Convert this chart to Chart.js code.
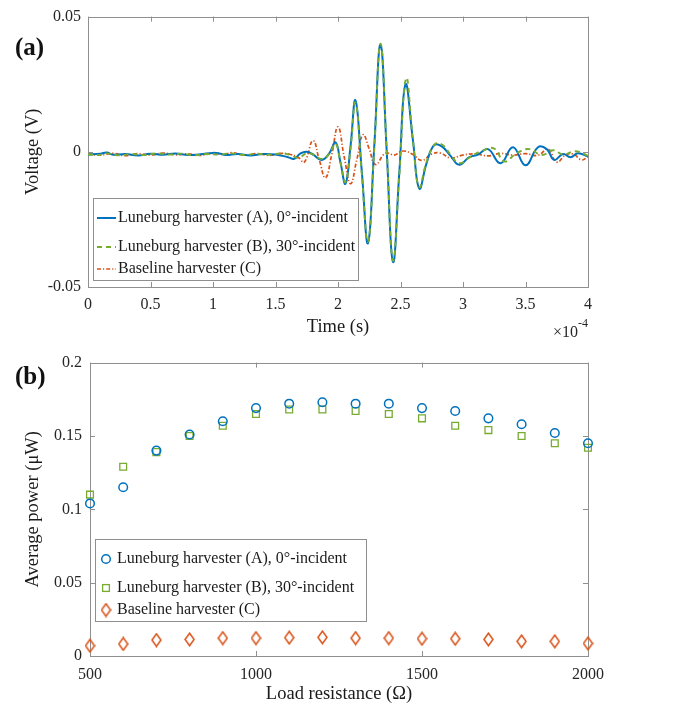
<!DOCTYPE html>
<html>
<head>
<meta charset="utf-8">
<script src="https://cdn.jsdelivr.net/npm/chart.js@4.4.1/dist/chart.umd.min.js"></script>
<style>
  body { margin: 0; background: #fff; }
  #wrap { position: relative; width: 677px; height: 712px; }
  #c1 { position: absolute; left: 0; top: 0; }
  #c2 { position: absolute; left: 0; top: 345px; }
</style>
</head>
<body>
<div id="wrap">
  <canvas id="c1" width="677" height="345"></canvas>
  <canvas id="c2" width="677" height="367"></canvas>
</div>
<script>
// ---- panel (a): time in units of 1e-4 s, voltage in V
var timeA = [0,0.1,0.15,0.2,0.3,0.4,0.5,0.6,0.7,0.8,0.9,1.0,1.05,1.1,1.2,1.3,1.4,1.5,1.6,1.65,
  1.7,1.75,1.8,1.87,1.93,1.98,2.02,2.06,2.10,2.14,2.19,2.24,2.29,2.34,2.39,2.44,2.49,2.54,2.60,2.65,
  2.71,2.77,2.83,2.90,2.97,3.05,3.12,3.2,3.3,3.4,3.5,3.6,3.67,3.73,3.8,3.86,3.92,4.0];
var voltA = [-0.0010,-0.0007,-0.0003,-0.0011,-0.0008,-0.0014,-0.0007,-0.0011,-0.0006,-0.0012,
  -0.0009,-0.0004,-0.0006,-0.0012,-0.0008,-0.0014,-0.0008,-0.0010,-0.0020,-0.0026,
  -0.0006,0.0000,-0.0010,-0.0030,-0.0006,0.0035,-0.0040,-0.0118,0.0020,0.0190,
  -0.0070,-0.0338,0.0020,0.0396,0.0000,-0.0408,-0.0080,0.0249,0.0040,-0.0136,
  -0.0040,0.0025,0.0020,-0.0015,-0.0048,-0.0020,-0.0010,0.0010,-0.0042,0.0017,
  -0.0050,0.0017,0.0010,-0.0030,-0.0008,-0.0020,-0.0005,-0.0018];

var timeB = [0,0.08,0.15,0.25,0.35,0.45,0.55,0.65,0.75,0.85,0.95,1.05,1.15,1.25,1.35,1.45,1.55,1.62,1.68,1.75,
  1.8,1.87,1.93,1.98,2.02,2.06,2.10,2.14,2.19,2.24,2.29,2.34,2.39,2.44,2.49,2.545,2.60,2.65,2.71,2.78,
  2.84,2.90,2.97,3.05,3.15,3.25,3.33,3.43,3.53,3.63,3.72,3.8,3.9,4.0];
var voltB = [-0.0009,-0.0012,-0.0006,-0.0013,-0.0008,-0.0012,-0.0006,-0.0010,-0.0007,-0.0013,
  -0.0008,-0.0010,-0.0006,-0.0012,-0.0007,-0.0011,-0.0006,-0.0012,-0.0022,-0.0006,
  -0.0010,-0.0026,-0.0008,0.0030,-0.0040,-0.0112,0.0010,0.0182,-0.0080,-0.0332,
  0.0010,0.0400,0.0005,-0.0402,-0.0090,0.0272,0.0040,-0.0130,-0.0035,0.0030,
  0.0024,-0.0010,-0.0042,-0.0022,0.0003,0.0012,-0.0036,-0.0005,0.0010,-0.0012,
  0.0006,-0.0010,0.0002,-0.0015];

var timeC = [0,0.1,0.2,0.3,0.4,0.5,0.6,0.7,0.8,0.9,1.0,1.1,1.15,1.25,1.35,1.45,1.55,1.62,1.68,1.73,
  1.80,1.85,1.90,1.95,2.00,2.05,2.10,2.15,2.20,2.25,2.30,2.38,2.45,2.52,2.60,2.67,2.75,2.82,2.90,3.0,
  3.1,3.2,3.3,3.4,3.5,3.6,3.68,3.75,3.82,3.88,3.95,4.0];
var voltC = [-0.0008,-0.0012,-0.0006,-0.0014,-0.0007,-0.0012,-0.0005,-0.0011,-0.0008,-0.0013,
  -0.0006,-0.0009,-0.0003,-0.0012,-0.0007,-0.0013,-0.0006,-0.0010,-0.0020,-0.0038,
  0.0041,-0.0030,-0.0096,-0.0010,0.0092,-0.0020,-0.0118,-0.0030,0.0063,0.0010,
  -0.0047,-0.0005,-0.0012,0.0003,-0.0010,-0.0032,-0.0008,-0.0005,-0.0023,-0.0012,
  -0.0008,-0.0015,-0.0006,-0.0012,-0.0007,-0.0013,0.0010,-0.0038,-0.0012,-0.0008,
  -0.0030,-0.0018];

var timeTicks = [0,0.5,1,1.5,2,2.5,3,3.5,4];
var voltTicks = [-0.05,0,0.05];

// ---- panel (b): load resistance in ohm, average power in uW
var resistance = [500,600,700,800,900,1000,1100,1200,1300,1400,1500,1600,1700,1800,1900,2000];
var powerA = [0.104,0.115,0.140,0.151,0.160,0.169,0.172,0.173,0.172,0.172,0.169,0.167,0.162,0.158,0.152,0.145];
var powerB = [0.110,0.129,0.139,0.150,0.157,0.165,0.168,0.168,0.167,0.165,0.162,0.157,0.154,0.150,0.145,0.142];
var powerC = [0.0070,0.0082,0.0109,0.0113,0.0122,0.0122,0.0125,0.0127,0.0122,0.0122,0.0118,0.0118,0.0113,0.0100,0.0100,0.0086];

var resTicks = [500,1000,1500,2000];
var powerTicks = [0,0.05,0.1,0.15,0.2];

var labels = ['Luneburg harvester (A), 0\u00b0-incident',
              'Luneburg harvester (B), 30\u00b0-incident',
              'Baseline harvester (C)'];

var BLUE = '#0072BD', GREEN = '#77AC30', ORANGE = '#D95319';
var SERIF = '"Liberation Serif", "Times New Roman", serif';
var FRAME = '#8f8f8f';

function pairs(xs, ys) {
  return xs.map(function(x, i) { return {x: x, y: ys[i]}; });
}

function fixedTicks(arr) {
  return function(scale) {
    scale.ticks = arr.map(function(v) { return {value: v}; });
  };
}

// diamond marker taller than wide, like the matlab export
function diamondSprite(color) {
  var c = document.createElement('canvas');
  c.width = 11; c.height = 15;
  var g = c.getContext('2d');
  g.strokeStyle = color;
  g.lineWidth = 1.5;
  g.beginPath();
  g.moveTo(5.5, 1.2); g.lineTo(10, 7.5); g.lineTo(5.5, 13.8); g.lineTo(1, 7.5);
  g.closePath();
  g.stroke();
  return c;
}
var diamond = diamondSprite(ORANGE);

// box + inward ticks on all four sides
var framePlugin = {
  id: 'frame',
  beforeDatasetsDraw: function(chart) {
    var ctx = chart.ctx, a = chart.chartArea;
    var xs = chart.scales.x, ys = chart.scales.y;
    ctx.save();
    ctx.strokeStyle = FRAME;
    ctx.lineWidth = 1;
    ctx.strokeRect(Math.round(a.left) + 0.5, Math.round(a.top) + 0.5,
                   Math.round(a.right - a.left), Math.round(a.bottom - a.top));
    ctx.beginPath();
    xs.ticks.forEach(function(t) {
      var px = Math.round(xs.getPixelForValue(t.value)) + 0.5;
      ctx.moveTo(px, a.bottom); ctx.lineTo(px, a.bottom - 5);
      ctx.moveTo(px, a.top); ctx.lineTo(px, a.top + 5);
    });
    ys.ticks.forEach(function(t) {
      var py = Math.round(ys.getPixelForValue(t.value)) + 0.5;
      ctx.moveTo(a.left, py); ctx.lineTo(a.left + 5, py);
      ctx.moveTo(a.right, py); ctx.lineTo(a.right - 5, py);
    });
    ctx.stroke();
    ctx.restore();
  }
};

function legendBox(ctx, x, y, w, h) {
  ctx.fillStyle = '#fff';
  ctx.fillRect(x, y, w, h);
  ctx.strokeStyle = FRAME;
  ctx.lineWidth = 1;
  ctx.strokeRect(Math.round(x) + 0.5, Math.round(y) + 0.5, w, h);
}

var rows = [20, 49, 71];

var extrasA = {
  id: 'extrasA',
  afterDraw: function(chart) {
    var ctx = chart.ctx, a = chart.chartArea;
    ctx.save();
    var bx = a.left + 5, by = a.bottom - 89;
    legendBox(ctx, bx, by, 265, 82);
    ctx.font = '16px ' + SERIF;
    ctx.textBaseline = 'middle';
    chart.data.datasets.forEach(function(ds, i) {
      var y = by + rows[i];
      ctx.strokeStyle = ds.borderColor;
      ctx.lineWidth = ds.borderWidth;
      ctx.setLineDash(ds.borderDash || []);
      ctx.beginPath();
      ctx.moveTo(bx + 4, y); ctx.lineTo(bx + 23, y);
      ctx.stroke();
      ctx.setLineDash([]);
      ctx.fillStyle = '#1a1a1a';
      ctx.fillText(ds.label, bx + 25, y);
    });
    // panel letter
    ctx.font = 'bold 25px ' + SERIF;
    ctx.fillStyle = '#111';
    ctx.textAlign = 'left';
    ctx.fillText('(a)', 15, 49);
    // x10^-4 exponent
    ctx.fillStyle = '#262626';
    ctx.textAlign = 'right';
    ctx.textBaseline = 'alphabetic';
    ctx.font = '12px ' + SERIF;
    var ew = ctx.measureText('-4').width;
    ctx.fillText('-4', a.right, 327);
    ctx.font = '16px ' + SERIF;
    ctx.fillText('\u00d710', a.right - ew, 337);
    ctx.restore();
  }
};

var extrasB = {
  id: 'extrasB',
  afterDraw: function(chart) {
    var ctx = chart.ctx, a = chart.chartArea;
    ctx.save();
    var bx = a.left + 5, by = a.bottom - 117;
    legendBox(ctx, bx, by, 271, 82);
    ctx.font = '16px ' + SERIF;
    ctx.textBaseline = 'middle';
    chart.data.datasets.forEach(function(ds, i) {
      var y = by + rows[i];
      var mx = bx + 11;
      ctx.strokeStyle = ds.borderColor;
      ctx.lineWidth = ds.pointBorderWidth;
      if (ds.pointStyle === 'circle') {
        ctx.beginPath();
        ctx.arc(mx, y, ds.pointRadius, 0, Math.PI * 2);
        ctx.stroke();
      } else if (ds.pointStyle === 'rect') {
        var s = Math.SQRT1_2 * ds.pointRadius;
        ctx.strokeRect(mx - s, y - s, 2 * s, 2 * s);
      } else {
        ctx.drawImage(ds.pointStyle, mx - ds.pointStyle.width / 2, y - ds.pointStyle.height / 2);
      }
      ctx.fillStyle = '#1a1a1a';
      ctx.fillText(ds.label, bx + 22, y);
    });
    ctx.font = 'bold 25px ' + SERIF;
    ctx.fillStyle = '#111';
    ctx.fillText('(b)', 15, 33);
    ctx.restore();
  }
};

var tickFont = {family: SERIF, size: 16};
var titleFont = {family: SERIF, size: 18.5};

new Chart(document.getElementById('c1'), {
  type: 'line',
  data: {
    datasets: [
      {label: labels[0], data: pairs(timeA, voltA), borderColor: BLUE, borderWidth: 2, order: 1},
      {label: labels[1], data: pairs(timeB, voltB), borderColor: GREEN, borderWidth: 1.9, borderDash: [5, 4], order: 0},
      {label: labels[2], data: pairs(timeC, voltC), borderColor: ORANGE, borderWidth: 1.7, borderDash: [4, 2, 1.2, 2], order: 2}
    ]
  },
  options: {
    responsive: false,
    animation: false,
    devicePixelRatio: 1,
    layout: {padding: {left: 22, right: 89, top: 15, bottom: 0}},
    elements: {
      point: {radius: 0},
      line: {tension: 0.45, fill: false}
    },
    plugins: {legend: {display: false}, tooltip: {enabled: false}},
    scales: {
      x: {
        type: 'linear', min: 0, max: 4,
        afterBuildTicks: fixedTicks(timeTicks),
        afterFit: function(s) { s.height = 58; },
        grid: {display: false, drawTicks: false},
        border: {display: false},
        ticks: {font: tickFont, color: '#262626', padding: 8, maxRotation: 0,
                callback: function(v) { return String(v); }},
        title: {display: true, text: 'Time (s)', font: titleFont, color: '#1a1a1a',
                padding: {top: 0, bottom: 6.6}}
      },
      y: {
        min: -0.05, max: 0.05,
        afterBuildTicks: fixedTicks(voltTicks),
        afterFit: function(s) { s.width = 66; },
        grid: {display: false, drawTicks: false},
        border: {display: false},
        ticks: {font: tickFont, color: '#262626', padding: 7,
                callback: function(v) { return String(v); }},
        title: {display: true, text: 'Voltage (V)', font: titleFont, color: '#1a1a1a',
                padding: {top: 0, bottom: 0}}
      }
    }
  },
  plugins: [framePlugin, extrasA]
});

new Chart(document.getElementById('c2'), {
  type: 'scatter',
  data: {
    datasets: [
      {label: labels[0], data: pairs(resistance, powerA), pointStyle: 'circle', pointRadius: 4.3,
       borderColor: BLUE, backgroundColor: 'transparent', pointBorderWidth: 1.5, clip: false},
      {label: labels[1], data: pairs(resistance, powerB), pointStyle: 'rect', pointRadius: 4.8,
       borderColor: GREEN, backgroundColor: 'transparent', pointBorderWidth: 1.3, clip: false},
      {label: labels[2], data: pairs(resistance, powerC), pointStyle: diamond, pointRadius: 6,
       borderColor: ORANGE, backgroundColor: 'transparent', pointBorderWidth: 1.5, clip: false}
    ]
  },
  options: {
    responsive: false,
    animation: false,
    devicePixelRatio: 1,
    layout: {padding: {left: 22, right: 89, top: 17, bottom: 0}},
    plugins: {legend: {display: false}, tooltip: {enabled: false}},
    scales: {
      x: {
        type: 'linear', min: 500, max: 2000,
        afterBuildTicks: fixedTicks(resTicks),
        afterFit: function(s) { s.height = 56; },
        grid: {display: false, drawTicks: false},
        border: {display: false},
        ticks: {font: tickFont, color: '#262626', padding: 9, maxRotation: 0,
                callback: function(v) { return String(v); }},
        title: {display: true, text: 'Load resistance (\u03a9)', font: titleFont, color: '#1a1a1a',
                padding: {top: 0, bottom: 6.6}}
      },
      y: {
        min: 0, max: 0.2,
        afterBuildTicks: fixedTicks(powerTicks),
        afterFit: function(s) { s.width = 68; },
        grid: {display: false, drawTicks: false},
        border: {display: false},
        ticks: {font: tickFont, color: '#262626', padding: 8,
                callback: function(v) { return String(v); }},
        title: {display: true, text: 'Average power (\u03bcW)', font: titleFont, color: '#1a1a1a',
                padding: {top: 0, bottom: 0}}
      }
    }
  },
  plugins: [framePlugin, extrasB]
});
</script>
</body>
</html>
